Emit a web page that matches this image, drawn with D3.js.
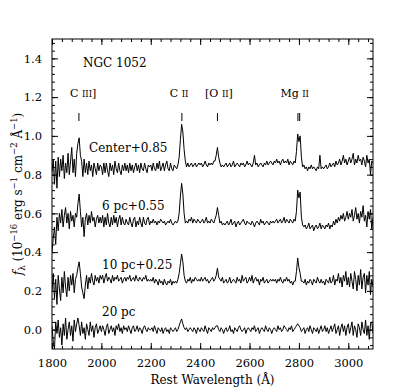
<!DOCTYPE html>
<html><head><meta charset="utf-8">
<script src="https://cdn.jsdelivr.net/npm/d3@7"></script>
<style>
body{margin:0;background:#fff}
text{font-family:"DejaVu Serif",serif;fill:#000}
</style>
</head><body>
<svg id="chart" width="415" height="389"></svg>
<script>
// ---- data ----
const wavelengthStart = 1800, wavelengthEnd = 3100, wavelengthStep = 5;
const seriesNames = ["Center+0.85", "6 pc+0.55", "10 pc+0.25", "20 pc"];
const seriesOffsets = [0.85, 0.55, 0.25, 0];

const fluxCenter = [
-0.04,0.03,-0.10,0.02,-0.12,0.04,-0.06,0.03,-0.03,0.05,-0.07,0.01,-0.04,0.06,-0.05,0.02,0.09,-0.04,0.03,-0.06,
0.06,0.11,0.14,0.05,0.02,-0.06,0.03,-0.04,0.01,-0.05,0.02,-0.03,0.00,-0.06,0.01,-0.02,-0.05,0.01,-0.03,0.00,
-0.01,-0.05,0.01,-0.04,0.01,-0.03,-0.06,0.01,-0.03,0.00,-0.05,0.02,-0.02,-0.04,0.01,-0.03,-0.05,0.00,-0.03,0.01,
-0.03,0.00,-0.04,0.01,-0.03,0.00,-0.04,-0.01,0.01,-0.03,0.00,-0.04,0.01,-0.02,-0.03,0.01,-0.02,-0.04,0.00,-0.01,
0.00,-0.03,0.01,-0.02,-0.03,0.01,-0.02,0.02,-0.03,-0.01,0.01,-0.03,0.00,0.02,-0.02,-0.03,0.01,-0.02,-0.03,0.00,
-0.01,-0.02,0.00,0.04,0.13,0.21,0.17,0.08,0.02,-0.01,0.01,-0.01,0.00,0.01,-0.01,0.00,0.01,-0.01,0.00,0.01,
0.00,0.01,-0.01,0.00,0.02,0.00,-0.01,0.01,0.00,0.01,0.00,0.02,0.02,0.05,0.09,0.04,0.01,-0.01,0.00,-0.01,
0.00,0.01,-0.01,0.00,0.01,-0.01,0.00,0.02,-0.01,0.00,0.01,0.00,-0.01,0.01,0.00,0.01,-0.01,0.00,0.02,0.00,
0.01,0.00,-0.01,0.01,0.05,0.00,0.01,-0.01,0.00,0.01,0.00,-0.01,0.01,0.00,0.02,0.00,0.01,0.02,0.01,0.00,
0.02,0.01,0.03,0.01,0.02,0.00,0.02,0.03,0.01,0.02,0.01,0.03,0.00,0.02,0.01,0.00,0.02,0.01,0.07,0.16,
0.12,0.15,0.04,-0.01,0.00,-0.02,-0.01,-0.03,-0.01,-0.02,0.00,-0.02,-0.01,-0.02,-0.03,-0.01,-0.02,0.05,-0.02,-0.01,
-0.02,-0.01,0.00,-0.02,-0.01,0.01,-0.01,0.00,0.01,-0.01,0.02,0.00,0.01,0.03,0.00,0.02,0.05,0.01,0.03,0.00,
0.02,0.04,0.01,0.03,0.06,0.00,0.03,0.01,0.05,0.02,0.03,0.00,0.04,0.02,-0.01,0.05,0.01,0.03,-0.05,0.02,0.01];

const flux6pc = [
-0.15,-0.08,-0.02,-0.11,0.03,-0.04,0.05,0.00,0.07,-0.02,0.04,0.08,0.00,0.05,-0.03,0.06,0.01,0.04,-0.02,0.05,
0.03,0.10,0.15,0.06,-0.02,0.03,-0.07,0.02,0.05,-0.01,0.04,0.00,0.06,0.01,0.03,-0.02,0.02,0.04,0.00,0.03,
0.00,0.04,-0.02,0.03,-0.01,0.05,0.00,-0.02,0.03,-0.01,0.04,0.00,0.03,-0.02,0.02,0.04,-0.01,0.03,0.00,-0.01,
0.02,0.00,-0.01,0.03,0.00,-0.02,0.02,0.03,-0.02,0.01,-0.01,0.03,0.00,-0.02,0.03,0.00,-0.01,0.02,0.03,-0.01,
0.01,0.00,0.02,0.00,0.01,-0.01,0.01,0.00,0.02,0.01,0.00,0.01,-0.01,0.00,0.01,0.00,0.02,0.00,-0.01,0.00,
0.01,0.00,0.01,0.05,0.14,0.205,0.15,0.05,0.00,0.01,0.00,0.02,0.01,0.03,0.00,0.02,0.01,0.00,0.02,0.01,
0.00,0.01,0.02,0.00,0.01,0.03,0.00,0.01,0.00,0.02,0.01,0.00,0.02,0.04,0.08,0.04,0.00,0.01,-0.01,0.00,
-0.01,0.00,0.01,-0.01,0.00,0.02,-0.01,0.00,0.01,-0.02,0.00,0.01,-0.01,0.00,0.01,0.02,0.00,-0.01,0.01,0.00,
0.00,-0.01,0.01,0.00,-0.02,0.00,0.01,0.00,-0.01,0.02,0.00,0.01,-0.01,0.00,0.01,0.00,-0.01,0.01,0.00,0.01,
0.00,0.01,0.02,0.00,0.01,0.02,0.00,0.01,0.03,0.00,0.02,0.01,0.00,0.02,0.01,0.00,0.02,0.01,0.06,0.17,
0.13,0.16,0.03,-0.01,-0.02,-0.01,-0.03,-0.02,0.00,-0.03,-0.02,-0.01,-0.04,-0.02,-0.01,-0.03,-0.02,0.00,-0.03,-0.01,
-0.02,-0.03,-0.01,-0.02,0.00,-0.03,-0.01,-0.02,0.01,-0.01,0.02,0.00,0.03,0.01,0.04,0.02,0.05,0.01,0.03,0.06,
0.02,0.05,0.03,0.07,0.01,0.04,0.08,0.02,0.05,0.00,0.06,0.03,0.09,0.01,0.04,-0.02,0.06,0.02,0.07,-0.03,0.03];

const flux10pc = [
-0.05,0.04,-0.09,0.01,-0.12,0.03,-0.04,-0.10,0.02,-0.06,0.05,-0.03,-0.08,0.02,-0.05,0.03,-0.02,0.04,-0.06,0.01,
0.03,0.07,0.10,0.04,-0.03,-0.06,-0.09,-0.02,0.03,-0.04,0.02,-0.01,0.04,0.00,-0.02,0.03,0.00,0.02,-0.01,0.03,
0.01,0.03,-0.01,0.02,0.04,0.00,0.02,0.01,-0.01,0.03,0.00,0.02,0.01,0.03,0.00,0.01,0.02,-0.01,0.01,0.02,
0.00,0.02,0.01,0.03,0.00,0.01,0.02,0.00,0.03,0.01,0.00,0.02,0.01,0.00,0.02,0.01,0.03,0.00,0.01,0.00,
0.01,0.00,0.02,-0.01,0.01,0.00,-0.02,0.01,-0.01,0.00,-0.02,0.01,-0.01,-0.02,0.00,-0.01,0.01,-0.02,0.00,-0.01,
0.00,-0.01,0.01,0.04,0.09,0.14,0.10,0.03,0.00,-0.01,0.01,0.00,0.02,-0.01,0.01,0.00,0.02,0.01,0.00,0.01,
0.00,0.02,0.00,0.01,0.02,0.00,0.01,-0.01,0.00,0.01,0.02,0.00,0.01,0.03,0.067,0.02,0.01,0.00,0.02,-0.01,
0.00,0.01,-0.01,0.00,0.02,-0.01,0.00,0.01,0.00,-0.01,0.02,0.00,0.01,-0.01,0.03,0.00,0.01,0.02,-0.01,0.00,
0.02,0.00,0.03,-0.01,0.01,0.02,0.00,0.01,-0.02,0.01,0.00,0.02,-0.01,0.00,0.01,-0.01,0.00,0.01,0.00,0.01,
0.00,0.01,-0.01,0.01,0.00,0.02,0.00,-0.01,0.01,0.00,0.02,0.00,0.01,-0.01,0.00,-0.02,0.00,0.00,0.05,0.12,
0.07,0.04,0.00,0.00,-0.01,0.01,-0.02,0.00,-0.01,0.01,0.00,-0.02,0.01,0.00,-0.01,0.02,0.00,-0.01,0.01,-0.01,
0.00,-0.02,0.01,0.00,-0.01,0.02,-0.01,0.00,0.03,-0.02,0.01,0.00,0.04,-0.01,0.02,-0.03,0.03,0.00,0.05,-0.02,
0.02,-0.03,0.04,0.00,-0.04,0.05,0.01,-0.05,0.03,-0.02,0.06,-0.04,0.02,0.04,-0.06,0.03,-0.02,0.05,-0.07,0.01,-0.03];

const flux20pc = [
0.02,-0.06,-0.10,0.04,-0.02,0.05,-0.04,0.01,-0.08,0.03,-0.03,0.06,-0.05,0.00,0.04,-0.03,0.02,-0.06,0.05,-0.01,
0.03,0.06,0.02,-0.03,0.04,-0.02,0.01,-0.05,0.03,0.00,-0.03,0.04,-0.01,0.02,-0.04,0.01,0.03,-0.02,0.00,0.02,
-0.01,0.02,0.00,-0.03,0.01,0.03,-0.02,0.00,0.02,-0.01,0.01,-0.03,0.02,0.00,0.03,-0.01,0.01,-0.02,0.02,0.00,
0.01,-0.01,0.02,0.00,-0.02,0.01,0.02,-0.01,0.00,0.02,-0.01,0.01,0.00,-0.02,0.01,0.02,0.00,-0.01,0.01,0.00,
0.00,0.01,-0.01,0.02,0.00,-0.02,0.01,0.00,-0.01,0.01,-0.02,0.00,0.01,-0.01,0.00,-0.02,0.01,0.00,-0.01,0.00,
0.01,-0.01,0.00,0.02,0.04,0.055,0.03,0.01,0.00,0.01,-0.01,0.00,0.01,0.00,-0.01,0.01,0.00,-0.02,0.01,0.00,
-0.01,0.01,0.00,-0.01,0.02,0.00,-0.02,0.01,0.00,-0.01,0.01,0.00,0.01,0.02,0.02,0.00,-0.01,0.01,0.00,-0.02,
0.00,0.01,-0.01,0.00,0.02,-0.01,0.00,-0.02,0.01,0.00,-0.01,0.01,0.02,0.00,-0.01,0.00,0.01,-0.02,0.00,0.01,
0.00,-0.01,0.01,0.00,0.02,-0.01,0.00,0.01,-0.02,0.00,0.01,0.00,-0.01,0.02,0.00,-0.01,0.01,0.00,-0.02,0.00,
0.01,0.00,-0.01,0.02,0.00,0.01,-0.01,0.00,0.02,0.01,0.00,-0.01,0.01,0.00,0.02,-0.01,0.00,0.01,0.02,0.03,
0.02,0.01,-0.01,0.00,0.01,-0.02,0.00,0.01,-0.01,0.02,0.00,-0.02,0.01,0.00,-0.01,0.01,-0.02,0.00,0.02,-0.01,
0.00,0.02,-0.01,0.01,-0.02,0.00,0.02,-0.01,0.01,0.03,-0.02,0.00,0.02,-0.03,0.01,0.03,-0.01,0.02,-0.03,0.01,
0.03,-0.02,0.01,0.04,-0.03,0.02,0.00,-0.04,0.03,0.01,-0.03,0.04,0.00,-0.02,0.05,-0.03,0.02,-0.05,0.03,0.04,-0.02];

const xTicks = [1800, 2000, 2200, 2400, 2600, 2800, 3000];
const yTicks = [0.0, 0.2, 0.4, 0.6, 0.8, 1.0, 1.2, 1.4];
const lineLabelMain = ["C ", "C ", "[O ", "Mg "];
const lineLabelNumeral = ["III", "II", "II", "II"];
const lineLabelTail = ["]", "", "]", ""];
const lineWavelengths = [[1909], [2326], [2470], [2796, 2803]];
const lineLabelStartX = [1873, 2277, 2420, 2725];

// ---- layout ----
const svg = d3.select("#chart");
const L = 52, R = 373, T = 39, B = 349;
const x = d3.scaleLinear().domain([1800, 3100]).range([L, R]);
const y = d3.scaleLinear().domain([-0.1, 1.5]).range([B, T]);
const waves = d3.range(wavelengthStart, wavelengthEnd + 1, wavelengthStep);
const fluxes = [fluxCenter, flux6pc, flux10pc, flux20pc];

svg.append("defs").append("clipPath").attr("id", "clip")
  .append("rect").attr("x", L).attr("y", T).attr("width", R - L).attr("height", B - T);

// spectra
const line = d3.line().x(d => x(d[0])).y(d => y(d[1]));
const g = svg.append("g").attr("clip-path", "url(#clip)");
fluxes.forEach((f, i) => {
  const pts = waves.map((w, j) => [w, f[j] + seriesOffsets[i]]);
  g.append("path").attr("d", line(pts)).attr("fill", "none")
    .attr("stroke", "#000").attr("stroke-width", 1).attr("stroke-linejoin", "round");
});

// axes with inward ticks
const xMinor = d3.range(1800, 3101, 40);
const yMinor = d3.range(-8, 38).map(k => k * 0.04).filter(v => v >= -0.1 && v <= 1.5);
function addAxis(axis, tr) {
  const a = svg.append("g").attr("transform", tr).call(axis);
  a.select(".domain").remove();
  a.selectAll("line").attr("stroke", "#000").attr("stroke-width", 1);
  return a;
}
addAxis(d3.axisBottom(x).tickValues(xMinor).tickSize(-3).tickFormat(""), `translate(0,${B})`);
addAxis(d3.axisTop(x).tickValues(xMinor).tickSize(-3).tickFormat(""), `translate(0,${T})`);
addAxis(d3.axisLeft(y).tickValues(yMinor).tickSize(-3).tickFormat(""), `translate(${L},0)`);
addAxis(d3.axisRight(y).tickValues(yMinor).tickSize(-3).tickFormat(""), `translate(${R},0)`);
addAxis(d3.axisBottom(x).tickValues(xTicks).tickSize(-6).tickPadding(10).tickFormat(d3.format("d")), `translate(0,${B})`);
addAxis(d3.axisTop(x).tickValues(xTicks).tickSize(-6).tickFormat(""), `translate(0,${T})`);
addAxis(d3.axisLeft(y).tickValues(yTicks).tickSize(-6).tickPadding(10).tickFormat(d3.format(".1f")), `translate(${L},0)`);
addAxis(d3.axisRight(y).tickValues(yTicks).tickSize(-6).tickFormat(""), `translate(${R},0)`);
svg.selectAll(".tick text").attr("font-family", "DejaVu Serif").attr("font-size", 11.5).attr("fill", "#000");

svg.append("rect").attr("x", L).attr("y", T).attr("width", R - L).attr("height", B - T)
  .attr("fill", "none").attr("stroke", "#000").attr("stroke-width", 1);

// labels
svg.append("text").attr("x", 83).attr("y", 67).attr("font-size", 12).text("NGC 1052");

const seriesLabelX = [89, 102, 102, 102];
const seriesLabelY = [152, 210, 269, 316];
seriesNames.forEach((n, i) => {
  svg.append("text").attr("x", seriesLabelX[i]).attr("y", seriesLabelY[i]).attr("font-size", 12).text(n);
});

lineLabelMain.forEach((m, i) => {
  const t = svg.append("text").attr("x", x(lineLabelStartX[i])).attr("y", 97).attr("font-size", 11);
  t.append("tspan").text(m);
  t.append("tspan").attr("font-size", 8.5).text(lineLabelNumeral[i]);
  t.append("tspan").text(lineLabelTail[i]);
  lineWavelengths[i].forEach(w => {
    svg.append("line").attr("x1", x(w)).attr("x2", x(w)).attr("y1", 113).attr("y2", 121)
      .attr("stroke", "#000").attr("stroke-width", 1);
  });
});

svg.append("text").attr("x", (L + R) / 2).attr("y", 384).attr("text-anchor", "middle")
  .attr("font-size", 12).text("Rest Wavelength (Å)");

const yt = svg.append("text").attr("transform", `translate(22,${(T + B) / 2}) rotate(-90)`)
  .attr("text-anchor", "middle").attr("font-size", 12);
yt.append("tspan").attr("font-style", "italic").text("f");
yt.append("tspan").attr("font-size", 8.5).attr("dy", 3).text("λ");
yt.append("tspan").attr("dy", -3).text(" (10");
yt.append("tspan").attr("font-size", 8.5).attr("dy", -5).text("−16");
yt.append("tspan").attr("dy", 5).text(" erg s");
yt.append("tspan").attr("font-size", 8.5).attr("dy", -5).text("−1");
yt.append("tspan").attr("dy", 5).text(" cm");
yt.append("tspan").attr("font-size", 8.5).attr("dy", -5).text("−2");
yt.append("tspan").attr("dy", 5).text(" Å");
yt.append("tspan").attr("font-size", 8.5).attr("dy", -5).text("−1");
yt.append("tspan").attr("dy", 5).text(")");
</script>
</body></html>
